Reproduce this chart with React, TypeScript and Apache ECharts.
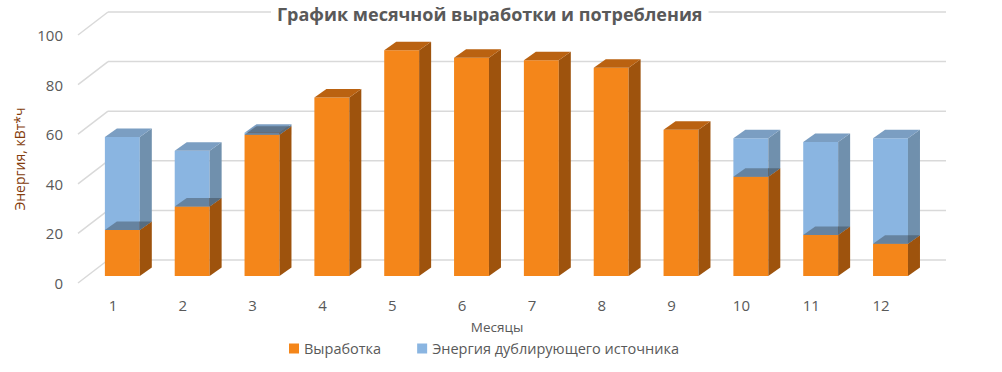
import React, { useEffect, useRef } from "react";
import * as echarts from "echarts";

const months = ["1", "2", "3", "4", "5", "6", "7", "8", "9", "10", "11", "12"];
const generation = [18.5, 28, 57, 72, 91, 88, 87, 84, 59, 40, 16.5, 13];
const backup = [37.5, 22.5, 0.8, 0, 0, 0, 0, 0, 0, 15.5, 37.5, 42.5];
const yTicks = [0, 20, 40, 60, 80, 100];

const FONT = "'Open Sans', sans-serif";
const ORANGE = { front: "#F4861A", side: "#9E530D", top: "#BA6211" };
const BLUE = { front: "#8AB5E1", side: "#7090AD", top: "#7B9EC2" };

// 3D geometry (pixels)
const BAR_DX = 12;
const BAR_DY = -8.5;
const WALL_DX = 30;
const WALL_DY = -23;

function makeBarRender(colors: any, junction: boolean) {
  return (params: any, api: any) => {
    const i = api.value(0);
    const lo = api.value(1);
    const hi = api.value(2);
    if (!(hi - lo > 0)) return null;
    const band = api.size([1, 0])[0];
    const w = band * 0.5;
    const cx = api.coord([i, 0])[0];
    const x0 = cx - band * 0.115;
    const x1 = x0 + w;
    const yLo = api.coord([i, lo])[1] - 7;
    const yHi = api.coord([i, hi])[1] - 7;
    const children: any[] = [
      {
        type: "rect",
        shape: { x: x0, y: yHi, width: w, height: yLo - yHi },
        style: { fill: colors.front },
      },
      {
        type: "polygon",
        shape: {
          points: [
            [x1, yHi],
            [x1 + BAR_DX, yHi + BAR_DY],
            [x1 + BAR_DX, yLo + BAR_DY],
            [x1, yLo],
          ],
        },
        style: { fill: colors.side },
      },
      {
        type: "polygon",
        shape: {
          points: [
            [x0, yHi],
            [x0 + BAR_DX, yHi + BAR_DY],
            [x1 + BAR_DX, yHi + BAR_DY],
            [x1, yHi],
          ],
        },
        style: { fill: colors.top },
      },
    ];
    if (junction && lo > 0) {
      children.push({
        type: "polygon",
        shape: {
          points: [
            [x0, yLo],
            [x0 + BAR_DX, yLo + BAR_DY],
            [x1 + BAR_DX, yLo + BAR_DY],
            [x1, yLo],
          ],
        },
        style: { fill: "rgba(45,50,55,0.38)" },
      });
    }
    return { type: "group", children };
  };
}

function gridRender(params: any, api: any) {
  const v = api.value(1);
  const cs = params.coordSys;
  const y = api.coord([0, v])[1];
  const style = { stroke: "#D9D9D9", lineWidth: 1.5 };
  return {
    type: "group",
    children: [
      {
        type: "line",
        shape: { x1: cs.x, y1: y, x2: cs.x + WALL_DX, y2: y + WALL_DY },
        style,
      },
      {
        type: "line",
        shape: {
          x1: cs.x + WALL_DX,
          y1: y + WALL_DY,
          x2: cs.x + cs.width + WALL_DX,
          y2: y + WALL_DY,
        },
        style,
      },
    ],
  };
}

export default function App() {
  const ref = useRef<HTMLDivElement>(null);
  useEffect(() => {
    if (!ref.current) return;
    const chart = echarts.init(ref.current, undefined, { renderer: "svg" });
    const orangeData = months.map((_, i) => [i, 0, generation[i]]);
    const blueData = months.map((_, i) => [i, generation[i], generation[i] + backup[i]]);
    chart.setOption({
      animation: false,
      backgroundColor: "#fff",
      title: {
        text: "График месячной выработки и потребления",
        left: 271,
        top: 3,
        padding: [2, 6],
        backgroundColor: "#fff",
        textStyle: { fontFamily: FONT, fontSize: 18, fontWeight: "bold", color: "#595959" },
      },
      legend: {
        data: ["Выработка", "Энергия дублирующего источника"],
        left: 289,
        top: 341,
        padding: 0,
        icon: "rect",
        itemWidth: 10,
        itemHeight: 10,
        itemGap: 36,
        textStyle: { fontFamily: FONT, fontSize: 14.5, lineHeight: 15, color: "#595959" },
      },
      grid: { left: 78, right: 86, top: 35, bottom: 89 },
      xAxis: {
        type: "category",
        data: months,
        name: "Месяцы",
        nameLocation: "middle",
        nameGap: 37,
        nameTextStyle: { fontFamily: FONT, fontSize: 13.5, lineHeight: 14, color: "#595959" },
        axisLine: { show: false },
        axisTick: { show: false },
        axisLabel: { fontFamily: FONT, fontSize: 15, color: "#595959", margin: 14, interval: 0 },
      },
      yAxis: {
        type: "value",
        min: 0,
        max: 100,
        interval: 20,
        name: "Энергия, кВт*ч",
        nameLocation: "middle",
        nameGap: 50,
        nameTextStyle: { fontFamily: FONT, fontSize: 14, color: "#843C0C" },
        axisLine: { show: false },
        axisTick: { show: false },
        splitLine: { show: false },
        axisLabel: { fontFamily: FONT, fontSize: 15, color: "#595959", margin: 15 },
      },
      series: [
        {
          type: "custom",
          name: "grid",
          z: 1,
          silent: true,
          renderItem: gridRender,
          data: yTicks.map((v) => [0, v]),
          encode: { x: 0, y: 1 },
        },
        {
          type: "custom",
          name: "Выработка",
          z: 3,
          itemStyle: { color: ORANGE.front },
          renderItem: makeBarRender(ORANGE, false),
          data: orangeData,
          encode: { x: 0, y: 2 },
        },
        {
          type: "custom",
          name: "Энергия дублирующего источника",
          z: 4,
          itemStyle: { color: BLUE.front },
          renderItem: makeBarRender(BLUE, true),
          data: blueData,
          encode: { x: 0, y: 2 },
        },
      ],
    });
    return () => chart.dispose();
  }, []);
  return (
    <div
      ref={ref}
      style={{ position: "absolute", left: 0, top: 0, width: 1002, height: 372 }}
    />
  );
}
